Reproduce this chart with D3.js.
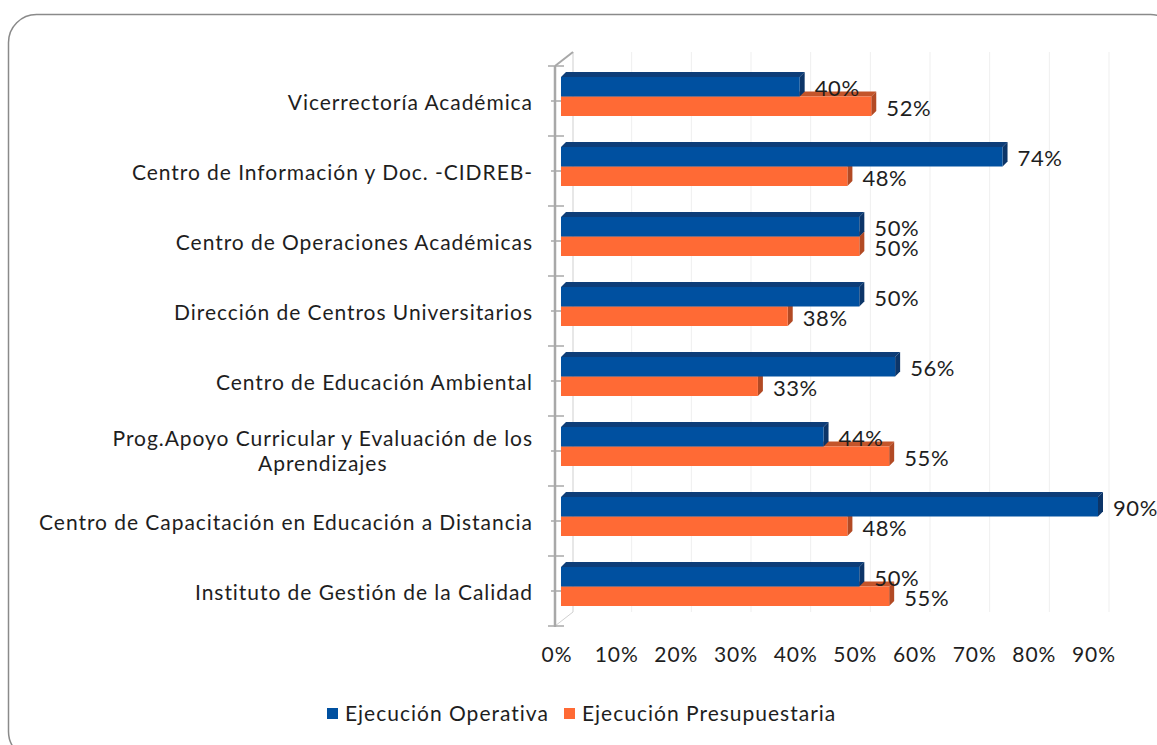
<!DOCTYPE html>
<html><head><meta charset="utf-8">
<script src="https://cdn.jsdelivr.net/npm/d3@7"></script>
<style>
html,body{margin:0;padding:0;background:#fff;}
svg{display:block;font-family:"Lato","Noto Sans",sans-serif;}
</style></head>
<body>
<svg id="chart" width="1157" height="745"></svg>
<script>
const categories = [
  "Vicerrectoría Académica",
  "Centro de Información y Doc. -CIDREB-",
  "Centro de Operaciones Académicas",
  "Dirección de Centros Universitarios",
  "Centro de Educación Ambiental",
  "Prog.Apoyo Curricular y Evaluación de los Aprendizajes",
  "Centro de Capacitación en Educación a Distancia",
  "Instituto de Gestión de la Calidad"
];
const categoryLines = [
  ["Vicerrectoría Académica"],
  ["Centro de Información y Doc. -CIDREB-"],
  ["Centro de Operaciones Académicas"],
  ["Dirección de Centros Universitarios"],
  ["Centro de Educación Ambiental"],
  ["Prog.Apoyo Curricular y Evaluación de los", "Aprendizajes"],
  ["Centro de Capacitación en Educación a Distancia"],
  ["Instituto de Gestión de la Calidad"]
];
const seriesNames = ["Ejecución Operativa", "Ejecución Presupuestaria"];
const operativa = [40, 74, 50, 50, 56, 44, 90, 50];
const presupuestaria = [52, 48, 50, 38, 33, 55, 48, 55];
const tickValues = [0, 10, 20, 30, 40, 50, 60, 70, 80, 90];

const colors = {
  front: ["#0050a0", "#ff6a35"],
  top: ["#0d3d78", "#c4552a"],
  side: ["#0c3568", "#b24a24"]
};

const svg = d3.select("#chart");
const textColor = "#1e1e1e";
const fontSize = 21;
const letterSp = 0.95;

// frame
svg.append("rect").attr("x", 8.5).attr("y", 14.5).attr("width", 1170).attr("height", 745)
  .attr("rx", 28).attr("ry", 28).attr("fill", "#fff").attr("stroke", "#8a8a8a").attr("stroke-width", 1.5);

const x = d3.scaleLinear().domain([0, 90]).range([561, 1098]);
const y = d3.scaleBand().domain(categories).range([66, 626]).paddingInner(0).paddingOuter(0);
const inner = d3.scaleBand().domain(seriesNames).range([11, 50]);
const depth = 5;
const backDx = 11, backDy = -14;

// back gridlines
svg.append("g").selectAll("line").data(tickValues.slice(1)).join("line")
  .attr("x1", d => x(d) + backDx).attr("x2", d => x(d) + backDx)
  .attr("y1", 66 + backDy).attr("y2", 626 + backDy)
  .attr("stroke", "#efefef").attr("stroke-width", 1);

// back wall left edge and floor
const axisX = 555;
svg.append("line").attr("x1", axisX + 18).attr("x2", axisX + 18).attr("y1", 66 + backDy).attr("y2", 626 + backDy)
  .attr("stroke", "#cfcfcf").attr("stroke-width", 1);
svg.append("line").attr("x1", axisX).attr("y1", 66).attr("x2", axisX + 18).attr("y2", 66 + backDy)
  .attr("stroke", "#a8a8a8").attr("stroke-width", 2);
svg.append("line").attr("x1", axisX).attr("y1", 626).attr("x2", axisX + 18).attr("y2", 626 + backDy)
  .attr("stroke", "#d0d0d0").attr("stroke-width", 1);

// axis line + ticks
svg.append("line").attr("x1", axisX).attr("x2", axisX).attr("y1", 66).attr("y2", 627)
  .attr("stroke", "#a8a8a8").attr("stroke-width", 2.5);
const boundaries = categories.map(c => y(c)).concat([y.range()[1]]);
svg.append("g").selectAll("line").data(boundaries).join("line")
  .attr("x1", axisX - 7).attr("x2", axisX + 9).attr("y1", d => d).attr("y2", d => d)
  .attr("stroke", "#a8a8a8").attr("stroke-width", 1.5);
svg.append("g").selectAll("line").data(categories).join("line")
  .attr("x1", axisX - 4).attr("x2", axisX + 7)
  .attr("y1", d => y(d) + y.bandwidth() / 2).attr("y2", d => y(d) + y.bandwidth() / 2)
  .attr("stroke", "#a8a8a8").attr("stroke-width", 1.5);

// bars
const rows = [];
categories.forEach((c, i) => {
  rows.push({cat: c, s: 0, v: operativa[i]});
  rows.push({cat: c, s: 1, v: presupuestaria[i]});
});
const order = rows.slice().sort((a, b) => b.s - a.s);
const gBars = svg.append("g");
order.forEach(r => {
  const y0 = y(r.cat) + inner(seriesNames[r.s]);
  const h = inner.bandwidth();
  const x0 = x(0), x1 = x(r.v);
  const g = gBars.append("g");
  g.append("path").attr("d", `M${x0},${y0} L${x0 + depth},${y0 - depth} L${x1 + depth},${y0 - depth} L${x1},${y0} Z`)
    .attr("fill", colors.top[r.s]);
  g.append("path").attr("d", `M${x1},${y0} L${x1 + depth},${y0 - depth} L${x1 + depth},${y0 + h - depth} L${x1},${y0 + h} Z`)
    .attr("fill", colors.side[r.s]);
  g.append("rect").attr("x", x0).attr("y", y0).attr("width", x1 - x0).attr("height", h)
    .attr("fill", colors.front[r.s]);
});

// value labels
svg.append("g").selectAll("text").data(rows).join("text")
  .attr("x", d => x(d.v) + depth + 10)
  .attr("y", d => y(d.cat) + inner(seriesNames[d.s]) + inner.bandwidth() - 0.5)
  .attr("font-size", 22).attr("letter-spacing", 0.6).attr("fill", textColor)
  .text(d => d.v + "%");

// category labels
const catG = svg.append("g").selectAll("g").data(categories).join("g");
catG.each(function(c, i) {
  const lines = categoryLines[i];
  const cy = y(c) + y.bandwidth() / 2 + 2;
  const lh = 25;
  const t = d3.select(this).append("text")
    .attr("font-size", fontSize).attr("letter-spacing", letterSp).attr("fill", textColor);
  if (lines.length === 1) {
    t.append("tspan").attr("x", 533).attr("y", cy).attr("dy", "0.35em").attr("text-anchor", "end").text(lines[0]);
  } else {
    t.text(lines[0]);
    const w = t.node().getComputedTextLength();
    t.text(null);
    const cx = 533 - w / 2;
    lines.forEach((ln, k) => {
      t.append("tspan").attr("x", cx).attr("y", cy - lh * (lines.length - 1) / 2 + k * lh - 1.5)
        .attr("dy", "0.35em").attr("text-anchor", "middle").text(ln);
    });
  }
});

// x tick labels
svg.append("g").selectAll("text").data(tickValues).join("text")
  .attr("x", d => x(d) - 4).attr("y", 655).attr("dy", "0.35em")
  .attr("text-anchor", "middle").attr("font-size", fontSize).attr("letter-spacing", letterSp).attr("fill", textColor)
  .text(d => d + "%");

// legend
const legend = svg.append("g");
const legendItems = [{name: seriesNames[0], x: 327}, {name: seriesNames[1], x: 564}];
legendItems.forEach((it, k) => {
  legend.append("rect").attr("x", it.x).attr("y", 708).attr("width", 11).attr("height", 11).attr("fill", colors.front[k]);
  legend.append("text").attr("x", it.x + 18).attr("y", 714).attr("dy", "0.35em")
    .attr("font-size", 21).attr("letter-spacing", 1.0).attr("fill", textColor).text(it.name);
});
</script>
</body></html>
